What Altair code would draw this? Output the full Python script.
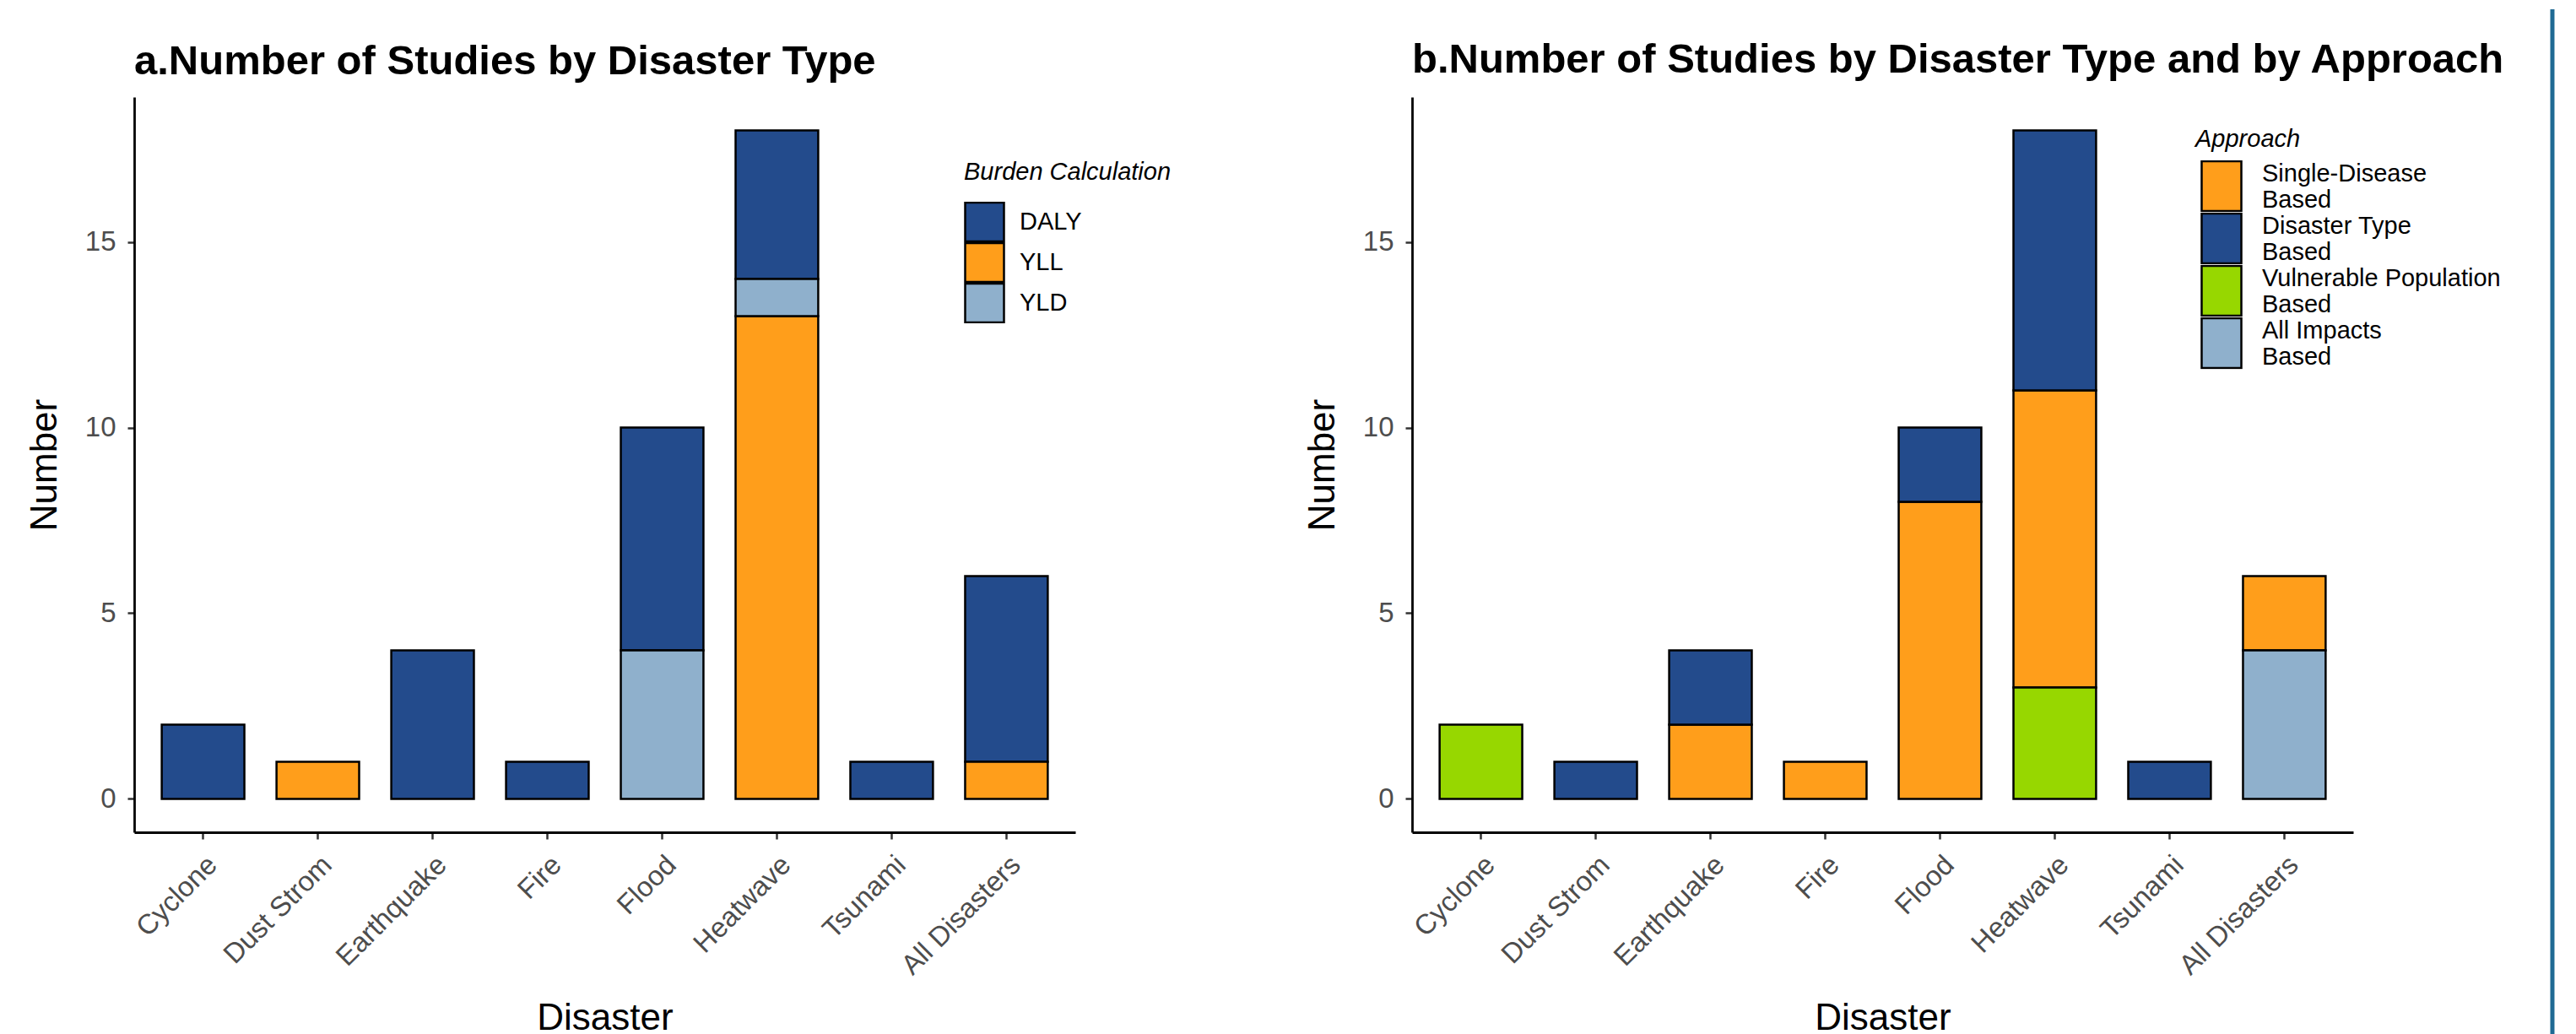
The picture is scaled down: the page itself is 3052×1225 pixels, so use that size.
import altair as alt
import pandas as pd

FONT = "Liberation Sans"

disasters = ["Cyclone", "Dust Strom", "Earthquake", "Fire", "Flood",
             "Heatwave", "Tsunami", "All Disasters"]

# Panel a: burden calculation
a_daly = [2, 0, 4, 1, 6, 4, 1, 5]
a_yll = [0, 1, 0, 0, 0, 13, 0, 1]
a_yld = [0, 0, 0, 0, 4, 1, 0, 0]
burden_names = ["DALY", "YLL", "YLD"]
burden_colors = ["#234B8C", "#FF9E1B", "#8FB0CC"]
burden_stack = {"YLL": 0, "YLD": 1, "DALY": 2}

# Panel b: approach
b_single = [0, 0, 2, 1, 8, 8, 0, 2]
b_dtype = [0, 1, 2, 0, 2, 7, 1, 0]
b_vuln = [2, 0, 0, 0, 0, 3, 0, 0]
b_all = [0, 0, 0, 0, 0, 0, 0, 4]
approach_names = ["Single-Disease Based", "Disaster Type Based",
                  "Vulnerable Population Based", "All Impacts Based"]
approach_colors = ["#FF9E1B", "#234B8C", "#97D700", "#8FB0CC"]
approach_stack = {"All Impacts Based": 0, "Vulnerable Population Based": 1,
                  "Single-Disease Based": 2, "Disaster Type Based": 3}

rows_a = []
for i, d in enumerate(disasters):
    for name, vals in [("DALY", a_daly), ("YLL", a_yll), ("YLD", a_yld)]:
        if vals[i] > 0:
            rows_a.append({"Disaster": d, "Burden": name, "Number": vals[i],
                           "ord": burden_stack[name]})
df_a = pd.DataFrame(rows_a)

rows_b = []
for i, d in enumerate(disasters):
    for name, vals in zip(approach_names, [b_single, b_dtype, b_vuln, b_all]):
        if vals[i] > 0:
            rows_b.append({"Disaster": d, "Approach": name, "Number": vals[i],
                           "ord": approach_stack[name]})
df_b = pd.DataFrame(rows_b)

W, H = 1115, 871
FRAME_TOP = 104  # how far the decorative frame line reaches above panel b


def xaxis():
    return alt.Axis(title="Disaster", labelAngle=-45, labelAlign="right",
                    labelBaseline="top", labelFontSize=33, labelColor="#4d4d4d",
                    labelFont=FONT, labelPadding=14, tickSize=8, tickWidth=2.5,
                    tickColor="#333333", domainColor="black", domainWidth=2.8,
                    titleFontSize=44, titleFont=FONT, titleFontWeight="normal",
                    titleColor="black", titlePadding=24, grid=False,
                    labelLimit=1000)


def yaxis():
    return alt.Axis(title="Number", values=[0, 5, 10, 15], labelFontSize=33,
                    labelColor="#4d4d4d", labelFont=FONT, labelPadding=14,
                    tickSize=8, tickWidth=2.5, tickColor="#333333",
                    domainColor="black", domainWidth=2.8, titleFontSize=44,
                    titleFont=FONT, titleFontWeight="normal", titleColor="black",
                    titlePadding=25, grid=False)


def xscale():
    return alt.Scale(domain=disasters, paddingInner=0.28, paddingOuter=0.24)


def yscale():
    return alt.Scale(domain=[-0.9, 18.9], nice=False, zero=False)


def ptitle(text, offset):
    return alt.TitleParams(text=text, anchor="start", frame="group", fontSize=49,
                           font=FONT, fontWeight="bold", color="black",
                           baseline="alphabetic", offset=offset)


legend_common = dict(orient="none", labelOffset=17, rowPadding=0,
                     labelFontSize=29, labelFont=FONT, labelColor="black",
                     titleFontSize=29, titleFontStyle="italic",
                     titleFontWeight="normal", titleFont=FONT, titleColor="black",
                     symbolStrokeColor="black", symbolStrokeWidth=2.5,
                     symbolOpacity=1, padding=0, titleLimit=2000, labelLimit=2000)

chart_a = alt.Chart(df_a).mark_bar(stroke="black", strokeWidth=2.5).encode(
    x=alt.X("Disaster:N", scale=xscale(), axis=xaxis(), sort=disasters),
    y=alt.Y("sum(Number):Q", scale=yscale(), axis=yaxis(), stack="zero"),
    color=alt.Color("Burden:N",
                    scale=alt.Scale(domain=burden_names, range=burden_colors),
                    legend=alt.Legend(title="Burden Calculation", legendX=983,
                                      legendY=75, symbolType="square",
                                      symbolSize=2116, titlePadding=20,
                                      clipHeight=48, **legend_common)),
    order=alt.Order("ord:Q", sort="ascending"),
).properties(width=W, height=H,
             title=ptitle("a.Number of Studies by Disaster Type", -22))

bars_b = alt.Chart(df_b).mark_bar(stroke="black", strokeWidth=2.5).encode(
    x=alt.X("Disaster:N", scale=xscale(), axis=xaxis(), sort=disasters),
    y=alt.Y("sum(Number):Q", scale=yscale(), axis=yaxis(), stack="zero"),
    color=alt.Color("Approach:N",
                    scale=alt.Scale(domain=approach_names, range=approach_colors),
                    legend=alt.Legend(title="Approach", legendX=928, legendY=36,
                                      symbolType="M-0.797,-1L0.797,-1L0.797,1L-0.797,1Z",
                                      symbolSize=3481, titlePadding=10,
                                      labelBaseline="bottom", clipHeight=61,
                                      labelExpr="[replace(datum.label, ' Based', ''), 'Based']",
                                      **legend_common)),
    order=alt.Order("ord:Q", sort="ascending"),
)

# decorative frame line on the right edge of the figure
frame_line = alt.Chart(pd.DataFrame({"k": [0]})).mark_rule(
    color="#1F6A94", strokeWidth=5
).encode(x=alt.value(1351), y=alt.value(-FRAME_TOP), y2=alt.value(H + 240))

chart_b = alt.layer(bars_b, frame_line).properties(
    width=W, height=H,
    title=ptitle("b.Number of Studies by Disaster Type and by Approach",
                 -22 - FRAME_TOP))

chart = alt.hconcat(chart_a, chart_b, spacing=157).resolve_scale(
    color="independent"
).resolve_legend(color="independent").configure_view(
    stroke=None
).properties(padding={"left": 23, "top": 0, "right": 5, "bottom": 0})

chart.save("out.html", embed_options={"renderer": "svg", "actions": False})
